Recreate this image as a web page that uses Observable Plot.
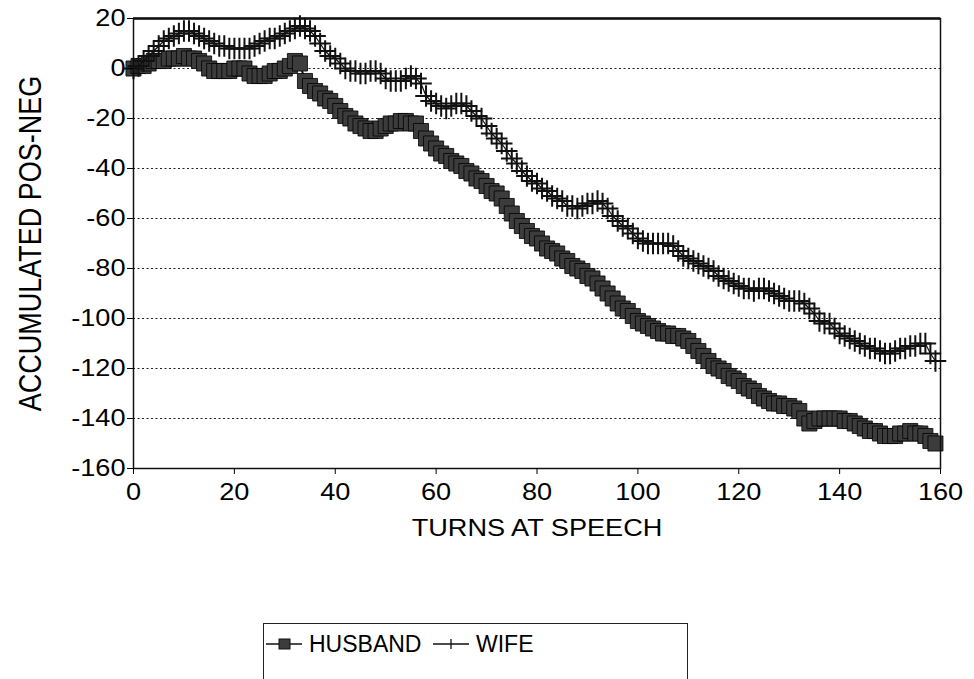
<!DOCTYPE html>
<html>
<head>
<meta charset="utf-8">
<script src="https://cdn.jsdelivr.net/npm/d3@7"></script>
<script src="https://cdn.jsdelivr.net/npm/@observablehq/plot@0.6"></script>
<style>
  body { margin: 0; background: #fff; font-family: "Liberation Sans", Arial, sans-serif; }
  #wrap { position: relative; width: 974px; height: 679px; overflow: hidden; background: #fff; }
  #legend { position: absolute; left: 263px; top: 623px; width: 425px; height: 66px;
            border: 1.5px solid #222; box-sizing: border-box; }
</style>
</head>
<body>
<div id="wrap"><div id="chart"></div><div id="legend"></div></div>
<script>
// Accumulated positive minus negative, one value per turn at speech (turn = index)
const husband = [
  0, 1, 1, 2, 3, 3, 3, 4, 4, 4,
  5, 4, 4, 3, 2, 0, -1, -1, -1, -1,
  0, 0, 0, -2, -3, -3, -3, -2, -1, -1,
  0, 1, 3, 2, -5, -7, -9, -10, -12, -13,
  -15, -17, -19, -20, -22, -23, -24, -25, -25, -24,
  -23, -22, -22, -21, -21, -22, -22, -25, -28, -30,
  -32, -34, -35, -37, -38, -39, -41, -42, -44, -45,
  -47, -49, -50, -52, -55, -58, -61, -63, -65, -67,
  -68, -70, -72, -73, -74, -76, -77, -79, -80, -81,
  -83, -84, -86, -88, -90, -92, -94, -96, -97, -99,
  -101, -102, -103, -104, -105, -106, -106, -107, -107, -108,
  -109, -111, -113, -115, -117, -119, -120, -121, -123, -124,
  -125, -127, -128, -129, -131, -132, -133, -134, -134, -135,
  -135, -136, -137, -140, -142, -141, -140, -140, -140, -140,
  -140, -141, -141, -142, -143, -144, -145, -145, -146, -147,
  -147, -147, -146, -146, -145, -146, -146, -147, -149, -150
];
const wife = [
  0, 1, 3, 5, 7, 9, 11, 12, 13, 14,
  15, 15, 14, 13, 12, 11, 10, 9, 9, 8,
  8, 8, 8, 8, 9, 10, 11, 12, 12, 13,
  14, 15, 16, 17, 16, 15, 13, 10, 7, 5,
  4, 2, 0, -1, -1, -2, -2, -1, -1, -2,
  -4, -5, -5, -5, -4, -3, -4, -6, -11, -13,
  -14, -15, -16, -15, -14, -14, -15, -17, -19, -20,
  -23, -26, -28, -30, -33, -36, -38, -41, -43, -45,
  -46, -48, -49, -51, -52, -53, -55, -55, -56, -55,
  -54, -54, -53, -54, -56, -59, -61, -63, -64, -66,
  -68, -69, -70, -70, -70, -70, -70, -71, -73, -75,
  -76, -77, -78, -79, -80, -81, -83, -84, -85, -86,
  -87, -88, -88, -89, -88, -88, -89, -90, -91, -92,
  -93, -93, -93, -94, -96, -98, -101, -102, -102, -104,
  -106, -107, -108, -109, -110, -111, -112, -112, -113, -114,
  -114, -113, -112, -112, -111, -111, -110, -110, -114, -117
];
const xTicks = [0, 20, 40, 60, 80, 100, 120, 140, 160];
const yTicks = [20, 0, -20, -40, -60, -80, -100, -120, -140, -160];
const gridValues = [0, -20, -40, -60, -80, -100, -120, -140];
const seriesNames = ["HUSBAND", "WIFE"];
const xTitle = "TURNS AT SPEECH";
const yTitle = "ACCUMULATED POS-NEG";

const toRows = (vals) => vals.map((v, i) => ({ turn: i, value: v }));
const H = toRows(husband), W = toRows(wife);

const ink = "#111";
const plot = Plot.plot({
  width: 974, height: 560,
  marginLeft: 133, marginRight: 34, marginTop: 18, marginBottom: 92,
  style: { fontFamily: "'Liberation Sans', Arial, sans-serif", fontSize: "23px", color: "#000", background: "#fff" },
  x: { domain: [0, 160] },
  y: { domain: [-160, 20] },
  marks: [
    Plot.ruleY(gridValues, { stroke: "#222", strokeDasharray: "2,2.5", strokeWidth: 1 }),
    Plot.line(H, { x: "turn", y: "value", stroke: ink, strokeWidth: 2 }),
    Plot.dot(H, { x: "turn", y: "value", symbol: "square", r: 8.5, fill: "#3c3c3c", stroke: "#000", strokeWidth: 0.8 }),
    Plot.line(W, { x: "turn", y: "value", stroke: ink, strokeWidth: 1.2 }),
    Plot.dot(W, { x: "turn", y: "value", symbol: "plus", r: 7, stroke: ink, strokeWidth: 2 }),
    Plot.frame({ stroke: ink, strokeWidth: 1.5 }),
    Plot.ruleY([20], { stroke: ink, strokeWidth: 2.5 }),
    Plot.axisX({ ticks: xTicks, tickSize: 6, tickPadding: 9, label: null, fontSize: 23, tickFormat: d => String(d) }),
    Plot.axisY({ ticks: yTicks, tickSize: 6, tickPadding: 2, label: null, fontSize: 23, tickFormat: d => String(d) }),
    Plot.text([xTitle], { frameAnchor: "bottom", dy: 67, fontSize: 23 }),
    Plot.text([yTitle], { frameAnchor: "left", dx: -103, rotate: -90, textAnchor: "middle", lineAnchor: "middle", fontSize: 27 })
  ]
});

// widen glyphs horizontally, as in the (horizontally stretched) original
plot.querySelectorAll("text").forEach(t => {
  let tr = t.getAttribute("transform");
  if (!tr) {
    const x = t.getAttribute("x") || 0, y = t.getAttribute("y") || 0;
    t.removeAttribute("x"); t.removeAttribute("y");
    tr = `translate(${x},${y})`;
  }
  t.setAttribute("transform", tr + (tr.includes("rotate") ? " scale(1,1.18)" : " scale(1.18,1)"));
});
document.getElementById("chart").appendChild(plot);

// legend
const lg = d3.select("#legend").append("svg").attr("width", 422).attr("height", 62)
  .style("font-family", "'Liberation Sans', Arial, sans-serif");
const items = [
  { name: seriesNames[0], x0: 2 },
  { name: seriesNames[1], x0: 169 }
];
items.forEach((it, k) => {
  const g = lg.append("g");
  g.append("line").attr("x1", it.x0).attr("x2", it.x0 + 36).attr("y1", 20).attr("y2", 20)
    .attr("stroke", ink).attr("stroke-width", 1.3);
  if (k === 0) {
    g.append("rect").attr("x", it.x0 + 13).attr("y", 15).attr("width", 11).attr("height", 10)
      .attr("fill", "#3c3c3c").attr("stroke", ink);
  } else {
    g.append("line").attr("x1", it.x0 + 18).attr("x2", it.x0 + 18).attr("y1", 15).attr("y2", 25)
      .attr("stroke", ink).attr("stroke-width", 1.3);
  }
  g.append("text").attr("x", it.x0 + 43).attr("y", 28).attr("font-size", 23).attr("fill", "#000")
    .text(it.name);
});
</script>
</body>
</html>
